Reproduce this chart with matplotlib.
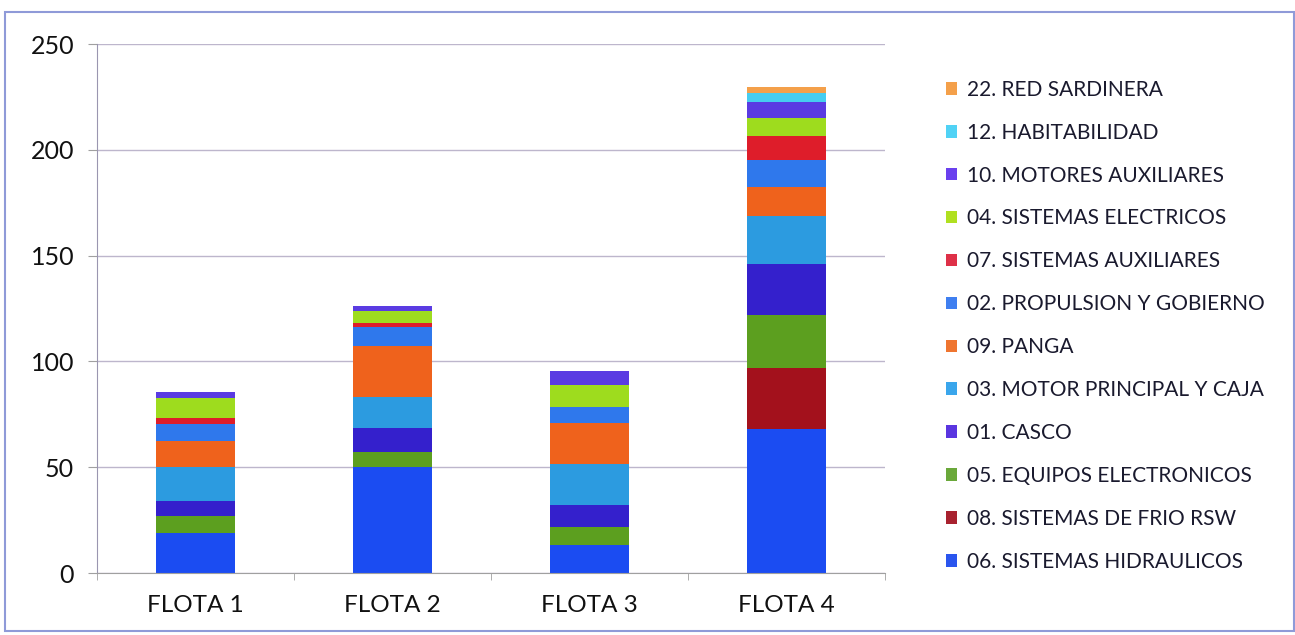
import matplotlib
matplotlib.use('Agg')
import matplotlib.pyplot as plt
from matplotlib.patches import Rectangle, Patch
import numpy as np

plt.rcParams['font.family'] = ['Lato', 'DejaVu Sans']

flotas = ['FLOTA 1', 'FLOTA 2', 'FLOTA 3', 'FLOTA 4']

# componentes, apilados de abajo hacia arriba
hidraulicos = [18.8, 50.2, 13.2, 67.9]
frio_rsw = [0.0, 0.0, 0.0, 29.1]
equipos_elec = [8.1, 6.8, 8.7, 24.9]
casco = [7.3, 11.7, 10.2, 24.0]
motor_principal = [15.7, 14.3, 19.4, 22.7]
panga = [12.3, 24.3, 19.5, 13.9]
propulsion = [8.0, 8.8, 7.6, 12.9]
sist_auxiliares = [3.2, 1.9, 0.0, 11.0]
sist_electricos = [9.3, 5.9, 10.2, 8.4]
motores_aux = [2.8, 2.1, 6.7, 7.8]
habitabilidad = [0.0, 0.0, 0.0, 4.3]
red_sardinera = [0.0, 0.0, 0.0, 2.8]

series = [
    ('06. SISTEMAS HIDRAULICOS', hidraulicos, '#1b4cf2', '#2a55ee'),
    ('08. SISTEMAS DE FRIO RSW', frio_rsw, '#a3111c', '#a8222f'),
    ('05. EQUIPOS ELECTRONICOS', equipos_elec, '#5c9f1f', '#6aa83a'),
    ('01. CASCO', casco, '#3420cc', '#5a35e0'),
    ('03. MOTOR PRINCIPAL Y CAJA', motor_principal, '#2c9be0', '#3aa6ec'),
    ('09. PANGA', panga, '#ef621c', '#ef7530'),
    ('02. PROPULSION Y GOBIERNO', propulsion, '#2f78ec', '#3f7ff0'),
    ('07. SISTEMAS AUXILIARES', sist_auxiliares, '#de1d2a', '#de3048'),
    ('04. SISTEMAS ELECTRICOS', sist_electricos, '#9edc1e', '#b0e020'),
    ('10. MOTORES AUXILIARES', motores_aux, '#5a3be2', '#6a40ee'),
    ('12. HABITABILIDAD', habitabilidad, '#46cdf0', '#50d2f5'),
    ('22. RED SARDINERA', red_sardinera, '#f4a04a', '#f4a04a'),
]

fig = plt.figure(figsize=(12.95, 6.35), dpi=100)
ax = fig.add_axes([0.0749, 0.0976, 0.6085, 0.8331])

x = np.arange(len(flotas))
bottom = np.zeros(len(flotas))
for nombre, vals, color, _ in series:
    vals = np.array(vals)
    ax.bar(x, vals, width=0.4, bottom=bottom, color=color, linewidth=0)
    bottom += vals

ax.set_xlim(-0.5, 3.5)
ax.set_ylim(0, 250)
ax.set_yticks(range(0, 251, 50))
ax.set_xticks(x)
ax.set_xticklabels(flotas, fontsize=17.5, color='#111111')
ax.set_xticks(np.arange(-0.5, 4, 1), minor=True)
ax.tick_params(axis='x', which='major', length=0, pad=16)
ax.tick_params(axis='x', which='minor', length=5, color='#a0a0a0')
ax.tick_params(axis='y', labelsize=18, length=6.5, color='#a0a0a0', pad=10,
               labelcolor='#111111')
ax.yaxis.grid(True, color='#bdb6cc', linewidth=1)
ax.set_axisbelow(True)
for s in ['top', 'right']:
    ax.spines[s].set_visible(False)
ax.spines['left'].set_color('#9a96b0')
ax.spines['bottom'].set_color('#a0a0a0')

handles = [Patch(facecolor=lc, edgecolor='none', label=n) for n, _, _, lc in series][::-1]
leg = fig.legend(handles=handles, loc='upper left', bbox_to_anchor=(0.716, 0.904),
                 frameon=False, fontsize=15, labelspacing=1.1,
                 handlelength=0.55, handleheight=0.55, handletextpad=0.45)
for t in leg.get_texts():
    t.set_color('#1a1a2e')

# marco del grafico
fig.patches.append(Rectangle((0.004, 0.006), 0.995, 0.975, transform=fig.transFigure,
                             fill=False, edgecolor='#8f9ad8', linewidth=1.5))

fig.savefig('out.png', dpi=100)
